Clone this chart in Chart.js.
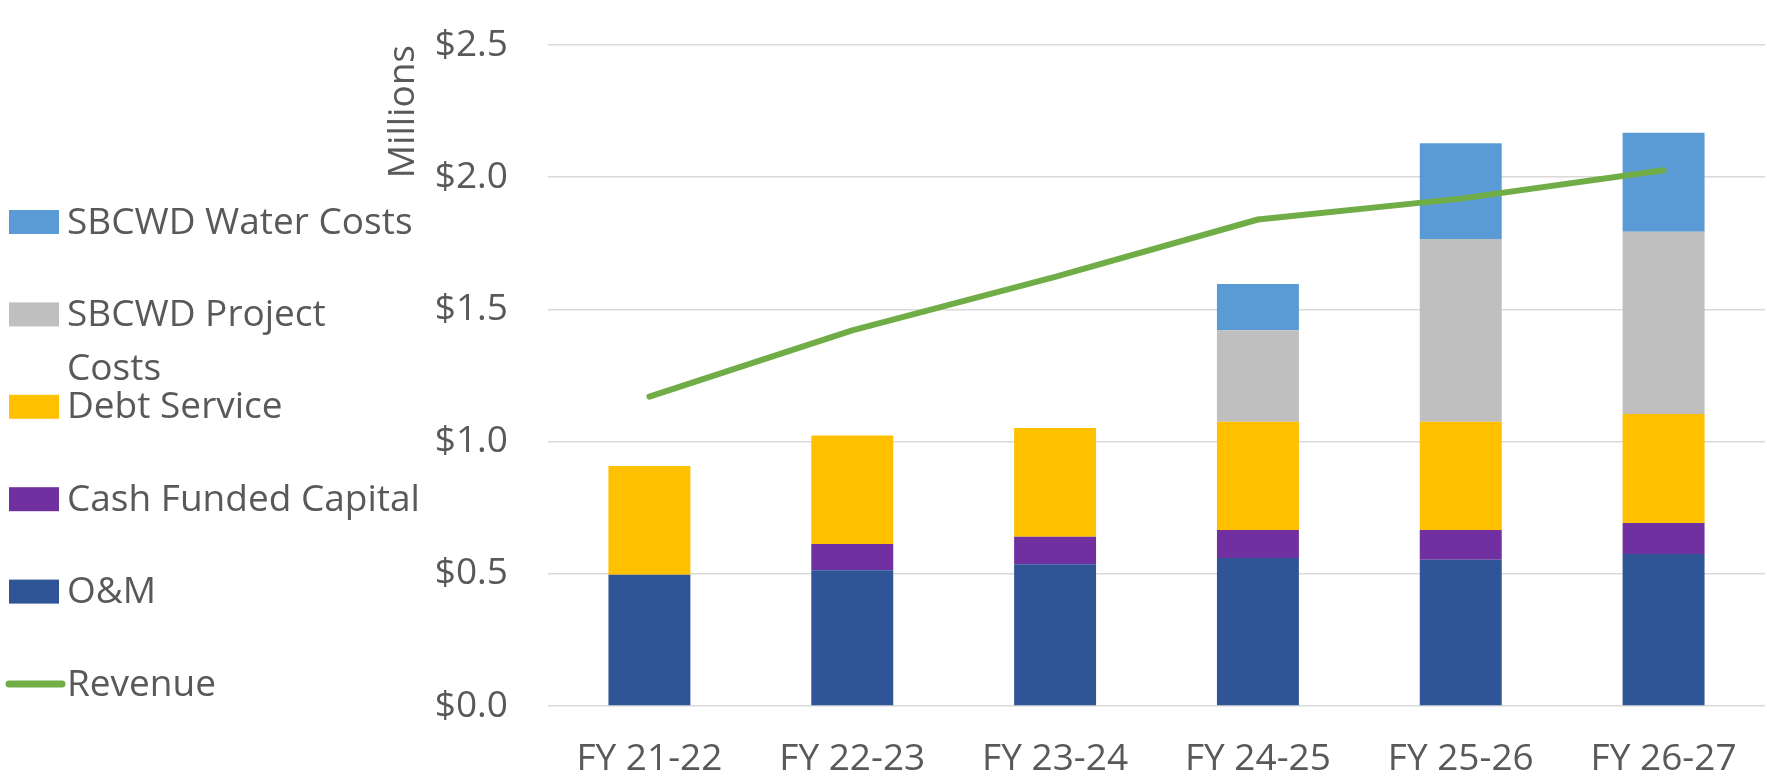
<!DOCTYPE html>
<html>
<head>
<meta charset="utf-8">
<script src="https://cdn.jsdelivr.net/npm/chart.js@4.4.0/dist/chart.umd.min.js"></script>
<style>
html,body{margin:0;padding:0;background:#fff;}
#wrap{position:relative;width:1767px;height:782px;}
canvas{display:block;}
</style>
</head>
<body>
<div id="wrap"><canvas id="c" width="1767" height="782"></canvas></div>
<script>
const categories = ["FY 21-22","FY 22-23","FY 23-24","FY 24-25","FY 25-26","FY 26-27"];
const omValues      = [0.496, 0.513, 0.536, 0.560, 0.553, 0.575];
const cashValues    = [0.000, 0.100, 0.104, 0.106, 0.113, 0.117];
const debtValues    = [0.412, 0.410, 0.411, 0.409, 0.409, 0.412];
const projectValues = [0.000, 0.000, 0.000, 0.346, 0.691, 0.690];
const waterValues   = [0.000, 0.000, 0.000, 0.175, 0.362, 0.374];
const revenueValues = [1.170, 1.421, 1.623, 1.840, 1.919, 2.026];
const yTickValues   = [0, 0.5, 1.0, 1.5, 2.0, 2.5];
const yAxisTitle = "Millions";

const FONT = "'Open Sans', 'DejaVu Sans', sans-serif";
const TEXT = "#595959";
const FS = 37;

const legendItems = [
  {label:["SBCWD Water Costs"], color:"#5B9BD5", type:"box"},
  {label:["SBCWD Project","Costs"], color:"#BFBFBF", type:"box"},
  {label:["Debt Service"], color:"#FFC000", type:"box"},
  {label:["Cash Funded Capital"], color:"#7030A0", type:"box"},
  {label:["O&M"], color:"#2F5597", type:"box"},
  {label:["Revenue"], color:"#70AD47", type:"line"}
];

const legendPlugin = {
  id:"leftLegend",
  afterDraw(chart){
    const ctx = chart.ctx;
    ctx.save();
    ctx.font = FS + "px " + FONT;
    ctx.textBaseline = "middle";
    ctx.textAlign = "left";
    const startY = 222, step = 92.4;
    legendItems.forEach((it,i)=>{
      const cy = startY + i*step;
      if(it.type==="box"){
        ctx.fillStyle = it.color;
        ctx.fillRect(9, cy-12, 50, 24);
      } else {
        ctx.strokeStyle = it.color;
        ctx.lineWidth = 7;
        ctx.lineCap = "round";
        ctx.beginPath();
        ctx.moveTo(9, cy); ctx.lineTo(62, cy);
        ctx.stroke();
      }
      ctx.fillStyle = TEXT;
      it.label.forEach((t,j)=>{
        ctx.fillText(t, 67, cy + 1 + j*54);
      });
    });
    ctx.restore();
  }
};

const ctx = document.getElementById("c").getContext("2d");
const barCommon = {type:"bar", stack:"s", categoryPercentage:1.0, barPercentage:0.404, borderWidth:0, order:2};
new Chart(ctx,{
  data:{
    labels:categories,
    datasets:[
      {type:"line", label:"Revenue", data:revenueValues, borderColor:"#70AD47", backgroundColor:"#70AD47",
       borderWidth:6, pointRadius:0, pointHoverRadius:0, tension:0, borderCapStyle:"round", borderJoinStyle:"round", order:1},
      Object.assign({label:"O&M", data:omValues, backgroundColor:"#2F5597"}, barCommon),
      Object.assign({label:"Cash Funded Capital", data:cashValues, backgroundColor:"#7030A0"}, barCommon),
      Object.assign({label:"Debt Service", data:debtValues, backgroundColor:"#FFC000"}, barCommon),
      Object.assign({label:"SBCWD Project Costs", data:projectValues, backgroundColor:"#BFBFBF"}, barCommon),
      Object.assign({label:"SBCWD Water Costs", data:waterValues, backgroundColor:"#5B9BD5"}, barCommon)
    ]
  },
  options:{
    responsive:false,
    animation:false,
    devicePixelRatio:1,
    layout:{padding:{left:381, right:2, top:45, bottom:0}},
    plugins:{legend:{display:false}, tooltip:{enabled:false}},
    scales:{
      x:{
        stacked:true,
        grid:{display:false},
        border:{display:false},
        ticks:{color:TEXT, font:{family:FONT, size:FS}, padding:23},
        afterFit(axis){ axis.height = 76; }
      },
      y:{
        stacked:true,
        min:0, max:2.5,
        afterBuildTicks(axis){ axis.ticks = yTickValues.map(v=>({value:v})); },
        grid:{color:"#D9D9D9", lineWidth:1.5, drawTicks:true, tickLength:40, tickColor:"rgba(0,0,0,0)"},
        border:{display:false},
        ticks:{color:TEXT, font:{family:FONT, size:FS}, padding:0,
          callback:(v)=>"$"+Number(v).toFixed(1)},
        title:{display:true, text:yAxisTitle, align:"end", color:TEXT, font:{family:FONT, size:FS}, padding:0},
        afterFit(axis){ axis.width = 167; }
      }
    }
  },
  plugins:[legendPlugin]
});
</script>
</body>
</html>
